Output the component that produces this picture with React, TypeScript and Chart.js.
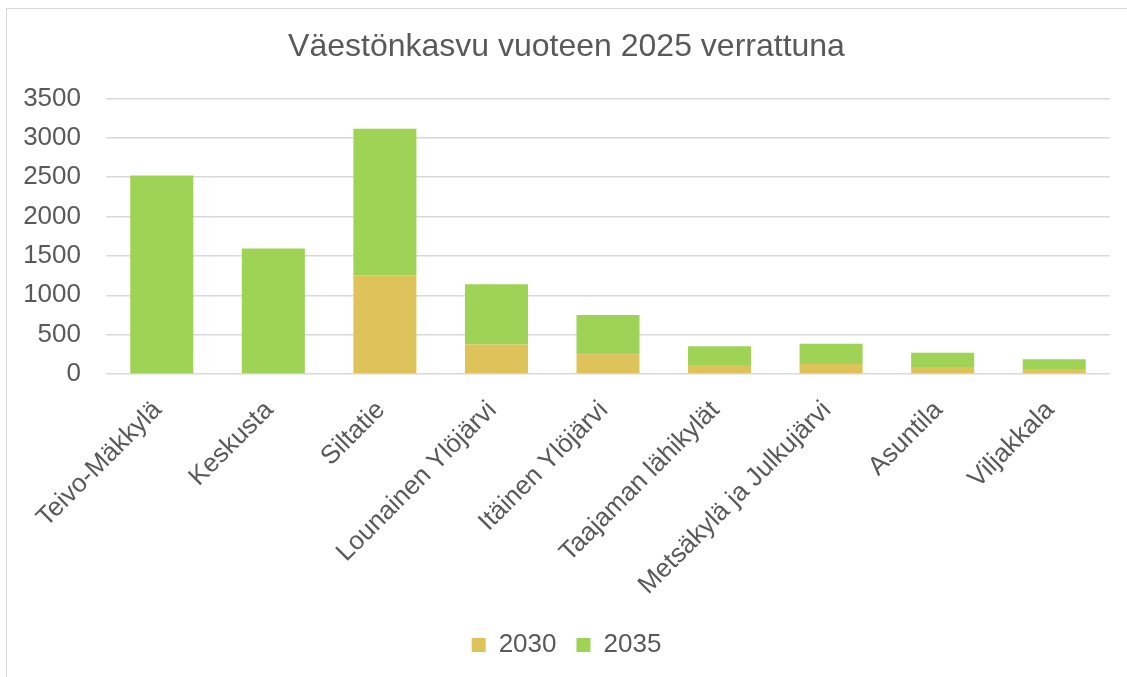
import React, { useEffect, useRef } from "react";
import { Chart, registerables } from "chart.js";

Chart.register(...registerables);

const categories = [
  "Teivo-Mäkkylä",
  "Keskusta",
  "Siltatie",
  "Lounainen Ylöjärvi",
  "Itäinen Ylöjärvi",
  "Taajaman lähikylät",
  "Metsäkylä ja Julkujärvi",
  "Asuntila",
  "Viljakkala",
];
const values2030 = [0, 0, 1250, 375, 250, 115, 127, 89, 63];
const values2035 = [2520, 1595, 1865, 765, 500, 236, 257, 181, 123];
const seriesNames = ["2030", "2035"];
const titleText = "Väestönkasvu vuoteen 2025 verrattuna";

const FONT = "'Liberation Sans', Arial, sans-serif";
const TEXT = "#595959";

export default function App() {
  const ref = useRef<HTMLCanvasElement>(null);
  useEffect(() => {
    if (!ref.current) return;
    const chart = new Chart(ref.current, {
      type: "bar",
      data: {
        labels: categories,
        datasets: [
          {
            label: seriesNames[0],
            data: values2030,
            backgroundColor: "#DDC35A",
            borderWidth: 0,
            barPercentage: 0.565,
            categoryPercentage: 1,
          },
          {
            label: seriesNames[1],
            data: values2035,
            backgroundColor: "#9ED356",
            borderWidth: 0,
            barPercentage: 0.565,
            categoryPercentage: 1,
          },
        ],
      },
      options: {
        animation: false,
        responsive: false,
        maintainAspectRatio: false,
        layout: { padding: { left: 16, right: 18, top: 2, bottom: 10 } },
        plugins: {
          title: {
            display: true,
            text: titleText,
            color: TEXT,
            font: { family: FONT, size: 32, weight: "normal" },
            padding: { top: 17, bottom: 32 },
          },
          legend: {
            display: true,
            position: "bottom",
            labels: {
              color: TEXT,
              font: { family: FONT, size: 26 },
              boxWidth: 14,
              boxHeight: 14,
              padding: 20,
            },
          },
          tooltip: { enabled: false },
        },
        scales: {
          x: {
            stacked: true,
            grid: { display: false, drawTicks: false },
            border: { display: false },
            ticks: {
              color: TEXT,
              font: { family: FONT, size: 26 },
              maxRotation: 45,
              minRotation: 45,
              padding: 21,
              labelOffset: -4,
              autoSkip: false,
            },
            afterFit: (scale: any) => {
              scale.height = 238;
              scale.paddingLeft = 0;
              scale.paddingRight = 0;
            },
          },
          y: {
            stacked: true,
            min: 0,
            max: 3500,
            grid: { color: "#D9D9D9", lineWidth: 1.5, drawTicks: false },
            border: { display: false },
            ticks: {
              stepSize: 500,
              color: TEXT,
              font: { family: FONT, size: 26 },
              padding: 25,
              callback: (v: any) => String(v),
            },
            afterFit: (scale: any) => {
              scale.width = 83;
            },
          },
        },
      },
    });
    return () => chart.destroy();
  }, []);
  return (
    <div
      style={{
        position: "fixed",
        left: 6,
        top: 8,
        width: 1140,
        height: 690,
        border: "1px solid #D9D9D9",
        background: "#fff",
      }}
    >
      <canvas ref={ref} width={1121} height={669} style={{ display: "block" }} />
    </div>
  );
}
